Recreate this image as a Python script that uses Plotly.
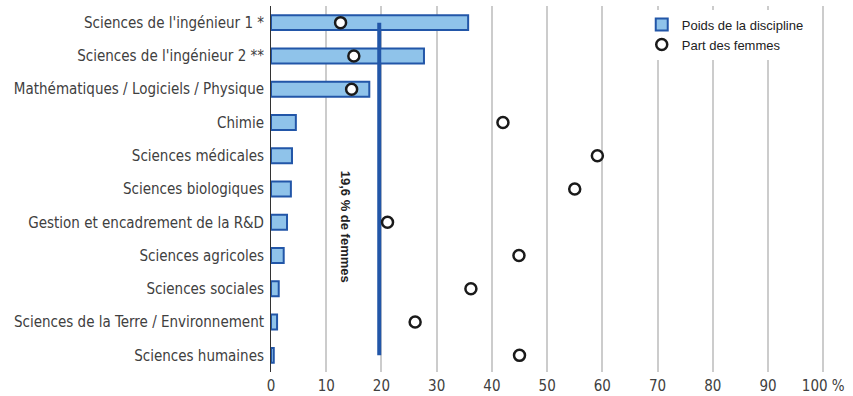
import plotly.graph_objects as go

categories = [
    "Sciences de l'ingénieur 1 *",
    "Sciences de l'ingénieur 2 **",
    "Mathématiques / Logiciels / Physique",
    "Chimie",
    "Sciences médicales",
    "Sciences biologiques",
    "Gestion et encadrement de la R&D",
    "Sciences agricoles",
    "Sciences sociales",
    "Sciences de la Terre / Environnement",
    "Sciences humaines",
]
poids = [35.7, 27.7, 17.8, 4.5, 3.8, 3.6, 2.9, 2.3, 1.4, 1.1, 0.5]
part_femmes = [12.6, 15.0, 14.6, 42.0, 59.1, 55.0, 21.1, 44.9, 36.2, 26.1, 45.0]
moyenne = 19.6
tick_vals = [0, 10, 20, 30, 40, 50, 60, 70, 80, 90, 100]
tick_text = ["0", "10", "20", "30", "40", "50", "60", "70", "80", "90", "100 %"]

NARROW = "DejaVu Sans Condensed, Roboto, sans-serif"
LABEL_COL = "#404040"

fig = go.Figure()
fig.add_trace(go.Bar(
    x=poids, y=categories, orientation="h", name="Poids de la discipline",
    width=0.45,
    marker=dict(color="#8fc3ea", line=dict(color="#2256a8", width=2)),
))
fig.add_trace(go.Scatter(
    x=[moyenne, moyenne], y=[categories[0], categories[-1]], mode="lines",
    line=dict(color="#2256a8", width=4), showlegend=False, hoverinfo="skip",
))
fig.add_trace(go.Scatter(
    x=part_femmes, y=categories, mode="markers", name="Part des femmes",
    marker=dict(symbol="circle", size=11, color="white",
                line=dict(color="#1a1a1a", width=2.5)),
))
fig.add_annotation(
    x=13.5, y=6.12, xref="x", yref="y", text="<b>19,6 % de femmes</b>",
    textangle=90, showarrow=False,
    font=dict(family="Liberation Sans, Arial, sans-serif", size=13, color="#222222"),
)

fig.update_layout(
    width=853, height=396,
    margin=dict(l=271, r=27, t=6, b=24),
    plot_bgcolor="white", paper_bgcolor="white",
    font=dict(family=NARROW, size=15, color=LABEL_COL),
    bargap=0.5,
    legend=dict(x=0.668, y=0.99, xanchor="left", yanchor="top",
                bgcolor="white", font=dict(family="Liberation Sans, Arial, sans-serif", size=13, color="#222222"),
                itemwidth=30, tracegroupgap=0),
    xaxis=dict(range=[0, 100.5], tickvals=tick_vals, ticktext=tick_text,
               showgrid=True, gridcolor="#cccccc", gridwidth=2, zeroline=False,
               ticks="", ticklabelstandoff=3, automargin=False,
               tickfont=dict(family=NARROW, size=15, color=LABEL_COL), fixedrange=True),
    yaxis=dict(type="category", range=[10.5, -0.5], showline=True,
               linecolor="#333333", linewidth=1, ticks="", ticklabelstandoff=3,
               automargin=False,
               tickfont=dict(family=NARROW, size=15, color=LABEL_COL)),
)
fig.write_html("out.html")
